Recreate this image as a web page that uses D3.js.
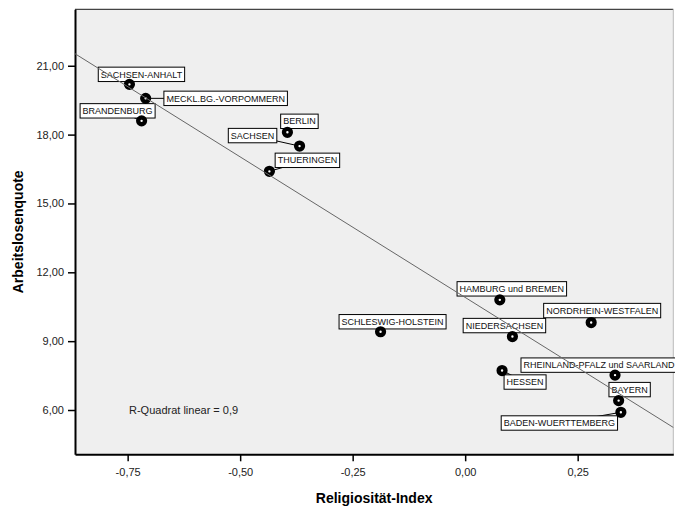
<!DOCTYPE html>
<html>
<head>
<meta charset="utf-8">
<script src="https://cdn.jsdelivr.net/npm/d3@7"></script>
<style>
  body { margin: 0; background: #fff; }
  text { font-family: "Liberation Sans", Arial, sans-serif; }
</style>
</head>
<body>
<script>
const states = [
  'SACHSEN-ANHALT', 'MECKL.BG.-VORPOMMERN', 'BRANDENBURG', 'BERLIN', 'SACHSEN', 'THUERINGEN',
  'HAMBURG und BREMEN', 'SCHLESWIG-HOLSTEIN', 'NIEDERSACHSEN', 'NORDRHEIN-WESTFALEN',
  'HESSEN', 'RHEINLAND-PFALZ und SAARLAND', 'BAYERN', 'BADEN-WUERTTEMBERG'
]
const religiositaet = [-0.746, -0.710, -0.719, -0.395, -0.368, -0.435, 0.077, -0.188, 0.105, 0.280, 0.082, 0.333, 0.341, 0.346]
const arbeitslosen = [20.19, 19.58, 18.60, 18.10, 17.50, 16.40, 10.80, 9.41, 9.20, 9.81, 7.72, 7.52, 6.41, 5.90]
const xTicks = [-0.75, -0.5, -0.25, 0, 0.25]
const yTicks = [6, 9, 12, 15, 18, 21]
const rSquareText = 'R-Quadrat linear = 0,9'

// label box offsets (box centre relative to point, px)
const labelOffsets = [
  [12, -10], [80, 0], [-24, -10], [12, -11], [-47, -10.5], [38, -11],
  [12, -11], [12, -10], [-8, -11], [11, -12],
  [23, 11.5], [-16, -10], [11, -11], [-61.5, 10.7]
]

const width = 675
const height = 509
const margin = { top: 9.3, right: 1.7, bottom: 54.7, left: 75 }
const iw = width - margin.left - margin.right
const ih = height - margin.top - margin.bottom

const svg = d3.select('body').append('svg')
  .attr('width', width)
  .attr('height', height)

const g = svg.append('g')
  .attr('transform', `translate(${margin.left},${margin.top})`)

const x = d3.scaleLinear().domain([-0.867, 0.4625]).range([0, iw])
const y = d3.scaleLinear().domain([4.07, 23.46]).range([ih, 0])
const fmt = d => d.toFixed(2).replace('.', ',')

g.append('rect')
  .attr('width', iw)
  .attr('height', ih)
  .style('fill', '#efefef')

// top and right frame
g.append('line').attr('x1', 0).attr('x2', iw).attr('y1', 0).attr('y2', 0)
  .style('stroke', '#444').style('stroke-width', 1.2)
g.append('line').attr('x1', iw).attr('x2', iw).attr('y1', 0).attr('y2', ih)
  .style('stroke', '#bbb').style('stroke-width', 1)

const xAxis = g.append('g')
  .attr('transform', `translate(0,${ih})`)
  .call(d3.axisBottom(x).tickValues(xTicks).tickFormat(fmt).tickSize(7).tickSizeOuter(0))
const yAxis = g.append('g')
  .call(d3.axisLeft(y).tickValues(yTicks).tickFormat(fmt).tickSize(7).tickSizeOuter(0))

svg.selectAll('.domain').style('stroke', '#000').style('stroke-width', 2)
svg.selectAll('.tick line').style('stroke', '#000').style('stroke-width', 1.5)
svg.selectAll('.tick text')
  .style('font-size', '11px')
  .style('fill', '#222')
xAxis.selectAll('.tick text').attr('dy', '1.15em').attr('y', 9)
yAxis.selectAll('.tick text').attr('x', -11)

// axis titles
svg.append('text')
  .attr('x', margin.left + iw / 2)
  .attr('y', 503)
  .attr('text-anchor', 'middle')
  .style('font-size', '14px')
  .style('font-weight', 'bold')
  .text('Religiosität-Index')

svg.append('text')
  .attr('transform', `translate(23,${margin.top + ih / 2}) rotate(-90)`)
  .attr('text-anchor', 'middle')
  .style('font-size', '14px')
  .style('font-weight', 'bold')
  .text('Arbeitslosenquote')

const data = states.map((s, i) => ({
  name: s,
  x: religiositaet[i],
  y: arbeitslosen[i],
  off: labelOffsets[i]
}))

const plot = g.append('g')

// connectors
plot.selectAll('.conn')
  .data(data)
  .enter().append('line')
  .attr('class', 'conn')
  .attr('x1', d => x(d.x))
  .attr('y1', d => y(d.y))
  .attr('x2', d => x(d.x) + d.off[0])
  .attr('y2', d => y(d.y) + d.off[1])
  .style('stroke', '#000')
  .style('stroke-width', 1)

// label boxes
const labels = plot.selectAll('.lbl')
  .data(data)
  .enter().append('g')
  .attr('class', 'lbl')
  .attr('transform', d => `translate(${x(d.x) + d.off[0]},${y(d.y) + d.off[1]})`)

labels.append('rect')
  .style('fill', '#fff')
  .style('stroke', '#000')
  .style('stroke-width', 1)

labels.append('text')
  .attr('text-anchor', 'middle')
  .attr('dy', '0.35em')
  .style('font-size', '9px')
  .style('fill', '#111')
  .text(d => d.name)

labels.each(function () {
  const t = d3.select(this).select('text').node().getComputedTextLength()
  d3.select(this).select('rect')
    .attr('x', -t / 2 - 2.5)
    .attr('y', -7.2)
    .attr('width', t + 5)
    .attr('height', 14.4)
})

// points
plot.selectAll('.pt')
  .data(data)
  .enter().append('circle')
  .attr('class', 'pt')
  .attr('cx', d => x(d.x))
  .attr('cy', d => y(d.y))
  .attr('r', 3.4)
  .style('fill', '#fff')
  .style('stroke', '#000')
  .style('stroke-width', 4.4)

// linear fit
const mx = d3.mean(religiositaet)
const my = d3.mean(arbeitslosen)
const slope = d3.sum(religiositaet, (v, i) => (v - mx) * (arbeitslosen[i] - my)) /
  d3.sum(religiositaet, v => (v - mx) ** 2)
const intercept = my - slope * mx
const xd = x.domain()

g.append('path')
  .datum(xd)
  .attr('d', d3.line().x(d => x(d)).y(d => y(intercept + slope * d)))
  .style('stroke', '#666')
  .style('stroke-width', 1)
  .style('fill', 'none')

g.append('text')
  .attr('x', x(-0.747))
  .attr('y', y(6) + 4)
  .style('font-size', '11px')
  .style('fill', '#222')
  .text(rSquareText)
</script>
</body>
</html>
